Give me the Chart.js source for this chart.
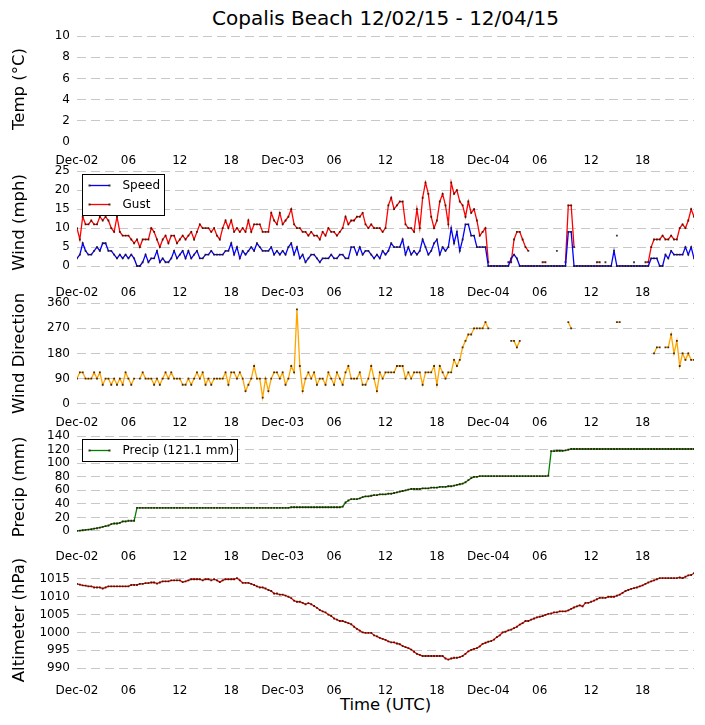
<!DOCTYPE html>
<html>
<head>
<meta charset="utf-8">
<script src="https://cdn.jsdelivr.net/npm/chart.js@4.4.1/dist/chart.umd.min.js"></script>
<style>
  body { margin: 0; background: #fff; font-family: "DejaVu Sans", sans-serif; }
  #page { position: relative; width: 705px; height: 725px; overflow: hidden; }
  #page canvas { position: absolute; left: 0; }
  #title { position: absolute; left: 77px; width: 617px; top: 6px; line-height: 24px; text-align: center; font-size: 20px; color: #000; }
  #xlabel { position: absolute; left: 77px; width: 617px; top: 695px; line-height: 20px; text-align: center; font-size: 16.5px; color: #000; }
</style>
</head>
<body>
<div id="page">
  <div id="title">Copalis Beach 12/02/15 - 12/04/15</div>
  <div id="xlabel">Time (UTC)</div>
</div>
<script>
// 20 minute observations, Dec-02 00:00 to Dec-05 00:00 (UTC)
const stepHours = 1 / 3;
const tickHours = [0, 6, 12, 18, 24, 30, 36, 42, 48, 54, 60, 66];
const tickLabels = ['Dec-02', '06', '12', '18', 'Dec-03', '06', '12', '18', 'Dec-04', '06', '12', '18'];

const speed = [
  2,3,6, 4,3,3, 4,5,4, 6,6,4, 4,3,2, 3,2,3, 2,3,2, 0,0,1,
  3,1,2, 2,4,1, 2,1,1, 2,4,2, 3,4,2, 4,2,3, 4,2,2, 3,3,4,
  3,3,3, 3,4,4, 6,3,5, 2,4,3, 4,5,4, 6,5,4, 4,4,5, 3,4,3,
  4,3,5, 6,3,5, 2,3,1, 2,3,3, 2,1,2, 2,2,3, 2,2,3, 3,2,2,
  5,5,3, 5,3,4, 4,3,2, 3,2,4, 3,4,6, 5,5,5, 7,3,5, 3,4,3,
  4,7,5, 3,4,6, 7,3,5, 4,5,10, 6,9,4, 7,11,11, 8,8,5, 5,5,5,
  0,0,0, 0,0,0, 0,0,2, 3,2,0, 0,0,0, 0,0,0, 0,0,0, 0,0,0,
  0,0,0, 0,9,9, 0,0,0, 0,0,0, 0,0,0, 0,0,0, 0,0,4, 0,0,0,
  0,0,0, 0,0,0, 0,0,0, 2,2,2, 0,0,3, 2,4,3, 3,3,3, 5,3,5,
  2
];
const gust = [
  10,7,13, 11,11,12, 11,11,13, 12,13,12, 10,9,13, 9,8,8, 8,7,6, 7,5,7,
  7,7,10, 9,7,5, 7,8,6, 8,8,6, 7,8,7, 8,9,7, 9,11,10, 10,10,9,
  10,8,7, 10,12,10, 12,9,10, 9,10,9, 12,9,11, 11,11,9, 9,9,14, 12,11,14,
  11,12,13, 15,11,10, 10,9,9, 8,9,8, 8,7,9, 8,10,9, 9,8,9, 10,13,11,
  12,12,13, 13,14,11, 10,11,10, 10,10,9, 10,16,18, 15,16,17, 17,11,10, 10,9,15,
  10,18,22, 19,13,10, 12,17,19, 16,11,22, 19,20,17, 16,13,17, 14,15,12, 8,9,10,
  1,null,null, null,null,null, null,1,1, 7,9,9, 7,5,4, null,null,null, null,1,1, null,null,null,
  4,null,null, 1,16,16, 5,null,null, null,null,null, null,null,1, 1,null,1, null,null,null, 8,null,null,
  null,null,null, 1,null,null, null,1,1, 5,7,7, 7,8,7, 7,8,7, 7,10,11, 10,12,15,
  13
];
const direction = [
  90,112,112, 90,90,90, 112,90,112, 68,90,90, 68,90,68, 90,68,112, 90,68,90, null,90,112,
  90,90,90, 68,90,68, 90,112,90, 112,90,90, 90,68,68, 90,68,90, 112,90,112, 68,90,68,
  90,90,90, 90,112,68, 112,112,90, 112,90,45, 68,90,135, 90,90,22, 90,45,90, 112,112,90,
  112,68,90, 135,112,338, 135,45,90, 112,90,112, 68,90,90, 68,112,90, 68,112,90, 68,112,135,
  90,90,90, 112,68,68, 90,135,90, 45,112,90, 112,112,112, 112,135,135, 135,90,112, 90,112,112,
  112,68,112, 112,112,135, 68,135,112, 90,112,112, 157,135,157, 202,225,248, 248,270,270, 270,270,292,
  270,null,null, null,null,null, null,null,225, 225,202,225, null,null,null, null,null,null, null,null,null, null,null,null,
  null,null,null, null,292,270, null,null,null, null,null,null, null,null,null, null,null,null, null,null,null, 292,292,null,
  null,null,null, null,null,null, null,null,null, null,180,202, 202,null,202, 202,248,180, 225,135,180, 157,180,157,
  157
];
const precip = [
  0,0.5,1, 1.5,2,2.5, 3.5,4,5, 6,7,8, 10,11,11, 12,14,14, 15,15,15, 34,34,34,
  34,34,34, 34,34,34, 34,34,34, 34,34,34, 34,34,34, 34,34,34, 34,34,34, 34,34,34,
  34,34,34, 34,34,34, 34,34,34, 34,34,34, 34,34,34, 34,34,34, 34,34,34, 34,34,34,
  34,34,34, 35,35,35, 35,35,35, 35,35,35, 35,35,35, 35,35,35, 35,35,35, 36,42,45,
  47,47,47, 48,50,51, 51,52,53, 53,54,54, 54,55,55, 56,57,58, 59,60,61, 62,62,62,
  62,63,63, 63,64,64, 64,65,65, 65,66,66, 67,68,69, 70,72,75, 78,80,80, 81,81,81,
  81,81,81, 81,81,81, 81,81,81, 81,81,81, 81,81,81, 81,81,81, 81,81,81, 81.5,118,118,
  118.5,118.5,118.5, 119,120,121.1, 121.1,121.1,121.1, 121.1,121.1,121.1, 121.1,121.1,121.1, 121.1,121.1,121.1, 121.1,121.1,121.1, 121.1,121.1,121.1,
  121.1,121.1,121.1, 121.1,121.1,121.1, 121.1,121.1,121.1, 121.1,121.1,121.1, 121.1,121.1,121.1, 121.1,121.1,121.1, 121.1,121.1,121.1, 121.1,121.1,121.1,
  121.1
];
const pressure = [
  1013.6,1013.4,1013.2, 1013.1,1012.9,1012.9, 1012.6,1012.6,1012.6, 1012.3,1012.6,1012.9, 1012.9,1012.9,1012.9, 1012.9,1012.9,1012.9, 1012.9,1013.3,1013.3, 1013.3,1013.6,1013.6,
  1013.8,1013.8,1014.0, 1014.0,1013.7,1014.0, 1014.3,1014.3,1014.3, 1014.6,1014.6,1014.6, 1014.6,1014.1,1014.3, 1014.6,1014.9,1014.9, 1014.9,1014.9,1014.6, 1014.9,1014.9,1014.6,
  1014.9,1014.6,1014.1, 1014.6,1014.9,1014.9, 1014.9,1014.9,1015.2, 1014.6,1013.9,1013.9, 1013.9,1013.6,1013.3, 1012.9,1012.6,1012.6, 1012.3,1011.9,1011.6, 1010.9,1010.9,1010.6,
  1010.6,1010.3,1010.0, 1009.6,1008.9,1008.6, 1008.6,1008.3,1007.9, 1008.2,1007.9,1007.4, 1006.9,1006.3,1005.9, 1005.6,1005.0,1004.6, 1003.9,1003.6,1003.2, 1003.2,1002.9,1002.6,
  1002.3,1001.6,1001.0, 1000.5,1000.0,999.9, 999.9,999.9,999.2, 998.9,998.5,998.2, 997.9,997.5,997.2, 997.2,996.9,996.7, 996.2,995.9,995.6, 995.2,994.6,994.0,
  993.7,993.4,993.4, 993.4,993.4,993.4, 993.4,993.4,993.4, 992.7,992.4,992.7, 992.9,992.9,993.1, 993.4,994.0,994.7, 995.1,995.4,995.6, 996.1,996.8,997.1,
  997.4,997.6,998.0, 998.7,999.2,1000.0, 1000.2,1000.6,1000.8, 1001.2,1001.6,1002.2, 1002.6,1003.2,1003.2, 1003.6,1003.9,1004.2, 1004.4,1004.6,1004.9, 1005.2,1005.3,1005.6,
  1005.6,1005.9,1005.9, 1005.9,1006.2,1006.6, 1007.0,1007.3,1007.6, 1007.3,1008.3,1008.3, 1008.6,1008.9,1009.3, 1009.7,1009.7,1009.7, 1010.0,1010.0,1010.0, 1010.3,1010.6,1011.1,
  1011.6,1011.9,1012.2, 1012.4,1012.6,1012.9, 1013.2,1013.6,1014.0, 1014.3,1014.6,1014.9, 1015.2,1015.2,1015.2, 1015.2,1015.2,1015.2, 1015.2,1015.4,1015.2, 1015.6,1016.0,1016.1,
  1016.6
];

const MARK = 'rgba(45,20,0,0.85)';
const GRID = '#c8c8c8';

Chart.defaults.font.family = '"DejaVu Sans", sans-serif';
Chart.defaults.color = '#000';

function toPoints(arr) {
  return arr.map((v, i) => ({ x: i * stepHours, y: v }));
}

function series(label, arr, color) {
  return {
    label: label,
    data: toPoints(arr),
    borderColor: color,
    backgroundColor: color,
    borderWidth: 1.3,
    pointStyle: 'rect',
    pointRadius: 1.3,
    pointBorderWidth: 0,
    pointBackgroundColor: MARK,
    spanGaps: false,
    tension: 0
  };
}

// legend drawn as a framed box inside the plot, like the original
const boxLegend = {
  id: 'boxLegend',
  afterDraw(chart, args, opts) {
    const items = opts.items;
    if (!items || !items.length) return;
    const ctx = chart.ctx, area = chart.chartArea;
    ctx.save();
    ctx.font = '12px "DejaVu Sans"';
    const textW = Math.max(...items.map(it => ctx.measureText(it.text).width));
    const x = Math.round(area.left + 5) + 0.5, y = Math.round(area.top + opts.top) + 0.5;
    const w = Math.round(44 + textW), h = items.length * 19 + 3;
    ctx.fillStyle = '#fff';
    ctx.fillRect(x, y, w, h);
    ctx.strokeStyle = '#000';
    ctx.lineWidth = 1;
    ctx.strokeRect(x, y, w, h);
    items.forEach((it, i) => {
      const ly = y + 11 + i * 19;
      ctx.strokeStyle = it.color;
      ctx.lineWidth = 1.3;
      ctx.beginPath();
      ctx.moveTo(x + 7, ly);
      ctx.lineTo(x + 27, ly);
      ctx.stroke();
      ctx.fillStyle = MARK;
      ctx.fillRect(x + 6, ly - 1, 2, 2);
      ctx.fillRect(x + 26, ly - 1, 2, 2);
      ctx.fillStyle = '#000';
      ctx.textBaseline = 'middle';
      ctx.fillText(it.text, x + 40, ly);
    });
    ctx.restore();
  }
};

const precipTotal = precip[precip.length - 1].toFixed(1);

const panels = [
  { title: 'Temp (°C)', min: 0, max: 10, ticks: [0, 2, 4, 6, 8, 10], top: 32.3, bottom: 141.8,
    noZeroGrid: true, datasets: [] },
  { title: 'Wind (mph)', min: -2, max: 25, ticks: [0, 5, 10, 15, 20, 25], top: 167.3, bottom: 273.6,
    datasets: [series('Speed', speed, '#0000ff'), series('Gust', gust, '#ff0000')],
    legend: [{ text: 'Speed', color: '#0000ff' }, { text: 'Gust', color: '#ff0000' }] },
  { title: 'Wind Direction', min: 0, max: 360, ticks: [0, 90, 180, 270, 360], top: 299.3, bottom: 403.7,
    datasets: [series('Direction', direction, '#ffa500')] },
  { title: 'Precip (mm)', min: -10, max: 140, ticks: [0, 20, 40, 60, 80, 100, 120, 140], top: 432.3, bottom: 537.7,
    datasets: [series('Precip', precip, '#008000')],
    legend: [{ text: 'Precip (' + precipTotal + ' mm)', color: '#008000' }] },
  { title: 'Altimeter (hPa)', min: 989, max: 1018, ticks: [990, 995, 1000, 1005, 1010, 1015], top: 564.6, bottom: 671.7,
    datasets: [series('Altimeter', pressure, '#ff0000')] }
];

const page = document.getElementById('page');

panels.forEach(p => {
  const canvasTop = Math.floor(p.top) - 10;
  const padTop = p.top - canvasTop;
  const height = Math.ceil(p.bottom - canvasTop) + 24;
  const xAxisH = height - (p.bottom - canvasTop);

  const cv = document.createElement('canvas');
  cv.width = 705;
  cv.height = height;
  cv.style.top = canvasTop + 'px';
  page.appendChild(cv);

  new Chart(cv, {
    type: 'line',
    data: { datasets: p.datasets },
    plugins: [boxLegend],
    options: {
      responsive: false,
      animation: false,
      events: [],
      layout: { padding: { top: padTop, right: 11, bottom: 0, left: 0 } },
      plugins: {
        legend: { display: false },
        tooltip: { enabled: false },
        boxLegend: { items: p.legend, top: 3 }
      },
      scales: {
        x: {
          type: 'linear',
          min: 0,
          max: 72,
          grid: { display: false },
          border: { display: false },
          afterBuildTicks: s => { s.ticks = tickHours.map(v => ({ value: v })); },
          afterFit: s => { s.height = xAxisH; },
          ticks: {
            autoSkip: false,
            maxRotation: 0,
            padding: 4,
            font: { size: 12 },
            callback: v => tickLabels[tickHours.indexOf(v)]
          }
        },
        y: {
          min: p.min,
          max: p.max,
          afterBuildTicks: s => { s.ticks = p.ticks.map(v => ({ value: v })); },
          afterFit: s => { s.width = 77; },
          grid: {
            drawTicks: false,
            lineWidth: 1,
            color: ctx => (p.noZeroGrid && ctx.tick && ctx.tick.value === 0) ? 'rgba(0,0,0,0)' : GRID
          },
          border: { display: false, dash: [9, 5] },
          ticks: { autoSkip: false, padding: 7, font: { size: 12 }, callback: v => String(v) },
          title: { display: true, text: p.title, font: { size: 16.5 }, padding: { top: 10, bottom: 0 } }
        }
      }
    }
  });
});
</script>
</body>
</html>
